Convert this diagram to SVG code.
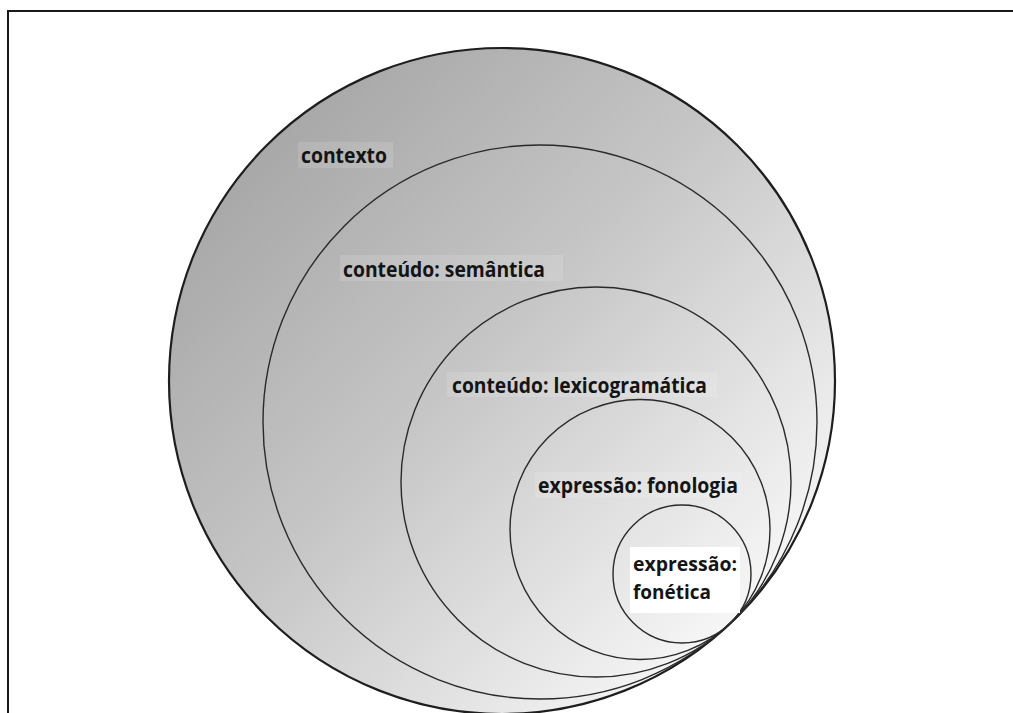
<svg xmlns="http://www.w3.org/2000/svg" width="1013" height="713" viewBox="0 0 1013 713">
  <style>
    .ring { fill: none; stroke: #2a2a2a; stroke-width: 1.4; }
    .outer { stroke: #1e1e1e; stroke-width: 2.2; }
    .lbl { font-family: "Open Sans", "Liberation Sans", sans-serif; font-weight: bold; font-size: 22px; fill: #141414; }
    .small { font-size: 20px; }
    .tag { fill: #ffffff; fill-opacity: 0.13; }
  </style>
  <defs>
    <linearGradient id="shade" gradientUnits="userSpaceOnUse" x1="150" y1="150" x2="700" y2="680">
      <stop offset="0" stop-color="#a0a0a0"/>
      <stop offset="0.5" stop-color="#c6c6c6"/>
      <stop offset="1" stop-color="#f8f8f8"/>
    </linearGradient>
  </defs>

  <rect width="1013" height="713" fill="#ffffff"/>
  <!-- frame -->
  <rect x="8" y="11" width="1012" height="712" fill="none" stroke="#1a1a1a" stroke-width="2"/>

  <g id="contexto">
    <circle class="ring outer" cx="502" cy="381" r="333" style="fill:url(#shade)"/>
    <rect class="tag" x="298" y="142" width="95" height="26"/>
    <text class="lbl" x="301" y="163" textLength="86" lengthAdjust="spacingAndGlyphs">contexto</text>
  </g>

  <g id="semantica">
    <circle class="ring" cx="540" cy="422" r="277"/>
    <rect class="tag" x="340" y="255" width="223" height="26"/>
    <text class="lbl" x="343" y="277" textLength="202" lengthAdjust="spacingAndGlyphs">conteúdo: semântica</text>
  </g>

  <g id="lexicogramatica">
    <circle class="ring" cx="596" cy="482" r="195"/>
    <rect class="tag" x="447" y="372" width="270" height="25"/>
    <text class="lbl" x="452" y="393" textLength="255" lengthAdjust="spacingAndGlyphs">conteúdo: lexicogramática</text>
  </g>

  <g id="fonologia">
    <circle class="ring" cx="640" cy="529.5" r="130"/>
    <rect class="tag" x="535" y="472" width="207" height="26"/>
    <text class="lbl" x="538" y="493" textLength="200" lengthAdjust="spacingAndGlyphs">expressão: fonologia</text>
  </g>

  <g id="fonetica">
    <circle class="ring" cx="682" cy="574" r="69"/>
    <rect x="630" y="547" width="110" height="66" fill="#ffffff"/>
    <text class="lbl small" x="633" y="571" textLength="104" lengthAdjust="spacingAndGlyphs">expressão:</text>
    <text class="lbl small" x="633" y="599" textLength="78" lengthAdjust="spacingAndGlyphs">fonética</text>
  </g>
</svg>
